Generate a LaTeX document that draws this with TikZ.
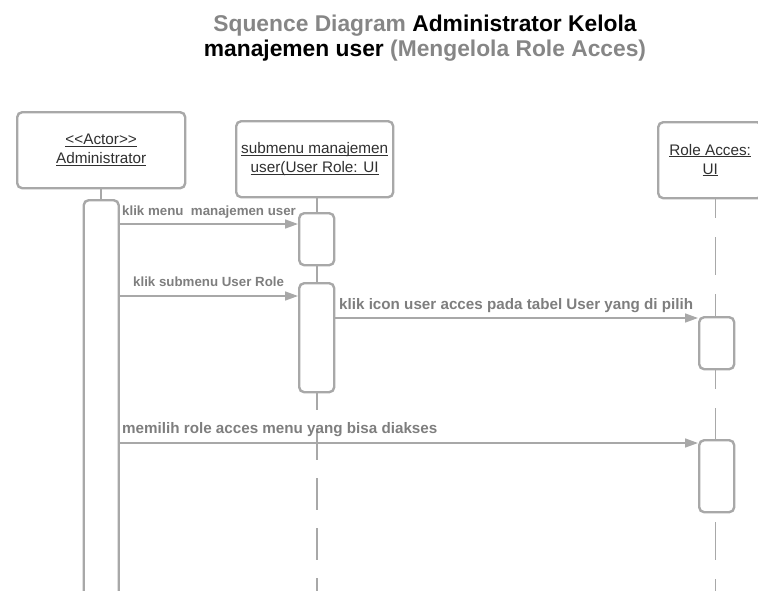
\documentclass[tikz,border=0pt]{standalone}
\usepackage{fontspec}
\setmainfont{Liberation Sans}
\newfontfamily\boxfont{Liberation Sans}
\usetikzlibrary{arrows.meta}
\definecolor{edgegray}{HTML}{A8A8A8}
\definecolor{msggray}{HTML}{7E7E7E}
\definecolor{titlegray}{HTML}{868686}
\definecolor{boxtext}{HTML}{303030}
% underline at a fixed depth below the baseline
\newcommand\ultext[1]{\setbox0\hbox{#1}\rlap{\rule[-2.2pt]{\wd0}{0.9pt}}\box0}
\begin{document}
\begin{tikzpicture}[x=1pt,y=-1pt,
  objbox/.style={draw=edgegray, line width=2.4pt, rounded corners=5pt, fill=white,
    minimum height=76pt, align=center, inner sep=0pt, text=boxtext,
    font=\boxfont\fontsize{15.3}{19}\selectfont, anchor=north west},
  actbar/.style={draw=edgegray, line width=2.4pt, rounded corners=5pt, fill=white,
    minimum width=35pt, inner sep=0pt, anchor=north west},
  life/.style={draw=edgegray, line width=1.6pt},
  dline/.style={life, dash pattern=on 32pt off 18pt},
  msg/.style={draw=edgegray, line width=1.6pt, -{Triangle[length=13pt,width=9pt]}},
  msglbl/.style={text=msggray, inner sep=0pt, anchor=base west},
  small/.style={font=\bfseries\fontsize{13.3}{15}\selectfont},
  large/.style={font=\bfseries\fontsize{15.2}{18}\selectfont},
  titlefont/.style={font=\bfseries\fontsize{22.8}{26}\selectfont, inner sep=0pt, anchor=base}
]
\useasboundingbox (0,0) rectangle (758,590);
\clip (0,0) rectangle (758,590);

% title
\node[titlefont] (title1) at (425,31)
  {\textcolor{titlegray}{Squence Diagram} Administrator Kelola};
\node[titlefont] (title2) at (425,56)
  {manajemen user \textcolor{titlegray}{(Mengelola Role Acces)}};

% reference points
\coordinate (bottom) at (0,605);
\coordinate (m1) at (0,224);
\coordinate (m2) at (0,296);
\coordinate (m3) at (0,318);
\coordinate (m4) at (0,443);

% lifeline heads
\node[objbox, minimum width=168pt] (admin) at (16,111)
  {\ultext{<<Actor>>}\\\ultext{Administrator}};
\node[objbox, minimum width=157pt] (submenu) at (235,120)
  {\ultext{submenu manajemen}\\\ultext{user(User Role: UI}};
\node[objbox, minimum width=104pt] (role) at (657,121)
  {\ultext{Role Acces:}\\\ultext{UI}};

% Role Acces lifeline (behind its activations)
\draw[life, dash pattern=on 38pt off 19pt, dash phase=17pt]
  (715.5,197) coordinate (roletop) -- (roletop |- bottom);

% activations
\node[actbar, minimum height=420pt] (adminbar) at (82.5,199) {};
\node[actbar, minimum height=52pt] (sub1) at (298,212) {};
\node[actbar, minimum height=109pt] (sub2) at (298,282) {};
\node[actbar, minimum height=52pt] (role1) at (698,316) {};
\node[actbar, minimum height=72pt] (role2) at (698,439) {};

% lifeline segments
\draw[life] (admin.south) -- (adminbar.north);
\draw[life] (sub1.north |- submenu.south) -- (sub1.north);
\draw[life] (sub1.south) -- (sub2.north);
\draw[dline, dash phase=15pt] (sub2.south) -- (sub2.south |- bottom);

% messages
\draw[msg] (adminbar.east |- m1) -- (sub1.west |- m1);
\node[msglbl, small] (lbl1) at (122,215) {klik menu\ \ manajemen user};
\draw[msg] (adminbar.east |- m2) -- (sub2.west |- m2);
\node[msglbl, small] (lbl2) at (133,286.5) {klik submenu User Role};
\draw[msg] (sub2.east |- m3) -- (role1.west |- m3);
\node[msglbl, large] (lbl3) at (339,309) {klik icon user acces pada tabel User yang di pilih};
\draw[msg] (adminbar.east |- m4) -- (role2.west |- m4);
\node[msglbl, large] (lbl4) at (122,433) {memilih role acces menu yang bisa diakses};
\end{tikzpicture}
\end{document}
